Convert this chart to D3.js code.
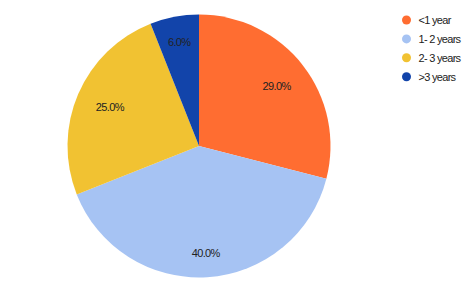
<!DOCTYPE html>
<html>
<head>
<meta charset="utf-8">
<script src="https://cdn.jsdelivr.net/npm/d3@7"></script>
<style>
  html, body { margin: 0; padding: 0; background: #fff; }
  svg { display: block; font-family: Arial, "Liberation Sans", sans-serif; }
</style>
</head>
<body>
<svg id="chart" width="474" height="293"></svg>
<script>
const categories = ['<1 year', '1- 2 years', '2- 3 years', '>3 years'];
const values = [29.0, 40.0, 25.0, 6.0];
const colors = ['#ff6d31', '#a6c3f3', '#f1c232', '#1244aa'];

const svg = d3.select('#chart');
const cx = 199, cy = 146, radius = 131.5;
const labelEdge = 112; // outer edge of the label box, from the centre

const data = categories.map((c, i) => ({ name: c, value: values[i], color: colors[i] }));

const pie = d3.pie().value(d => d.value).sort(null);
const arc = d3.arc().innerRadius(0).outerRadius(radius);

const g = svg.append('g').attr('transform', `translate(${cx},${cy})`);
const arcs = pie(data);

g.selectAll('path')
  .data(arcs)
  .join('path')
  .attr('d', arc)
  .attr('fill', d => d.data.color);

const labels = g.selectAll('text')
  .data(arcs)
  .join('text')
  .attr('text-anchor', 'middle')
  .attr('dy', '0.36em')
  .attr('font-size', 11)
  .attr('letter-spacing', '-0.65px')
  .attr('fill', '#222')
  .text(d => d3.format('.1f')(d.data.value) + '%');

// push each label out until its box touches labelEdge
labels.attr('transform', function (d) {
  const a = (d.startAngle + d.endAngle) / 2;
  const sx = Math.sin(a), sy = -Math.cos(a);
  const hw = this.getBBox().width / 2, hh = 4;
  const r = labelEdge - (hw * Math.abs(sx) + hh * Math.abs(sy));
  return `translate(${r * sx},${r * sy})`;
});

// legend
const legend = svg.append('g').attr('transform', 'translate(406.5,20)');
const item = legend.selectAll('g')
  .data(data)
  .join('g')
  .attr('transform', (d, i) => `translate(0,${i * 18.9})`);

item.append('circle')
  .attr('r', 4.5)
  .attr('fill', d => d.color);

item.append('text')
  .attr('x', 12)
  .attr('dy', '0.36em')
  .attr('font-size', 11)
  .attr('letter-spacing', '-0.7px')
  .attr('fill', '#222')
  .text(d => d.name);
</script>
</body>
</html>
